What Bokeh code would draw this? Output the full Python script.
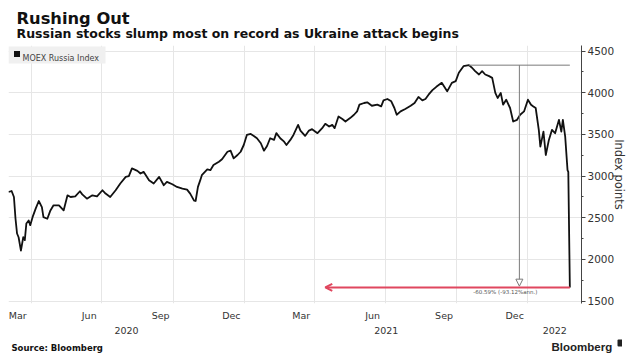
import pandas as pd
from bokeh.plotting import figure
from bokeh.layouts import column
from bokeh.models import (Range1d, FixedTicker, SingleIntervalTicker, DatetimeTickFormatter,
                          Label, Arrow, NormalHead, OpenHead, BoxAnnotation)
from bokeh.embed import file_html
from bokeh.resources import INLINE

# ---------------- data ----------------
title = "Rushing Out"
subtitle = "Russian stocks slump most on record as Ukraine attack begins"
series_name = "MOEX Russia Index"
source = "Source: Bloomberg"
y_label = "Index points"
drop_text = "-60.59% (-93.12%ann.)"

start_date = "2020-03-03"
day_offset = [0, 4, 7, 9, 11, 13, 16, 19, 21, 23,
              26, 28, 31, 35, 39, 43, 45, 50, 54, 58,
              65, 71, 76, 80, 86, 92, 95, 101, 108, 114,
              121, 125, 131, 138, 144, 151, 155, 159, 166, 170,
              174, 181, 187, 194, 200, 204, 211, 217, 224, 230,
              234, 239, 241, 244, 247, 249, 256, 260, 264, 271,
              275, 282, 286, 290, 295, 299, 303, 307, 312, 316,
              320, 325, 329, 333, 337, 342, 345, 350, 355, 358,
              363, 367, 373, 376, 382, 387, 391, 398, 404, 408,
              413, 417, 420, 425, 430, 434, 440, 445, 449, 452,
              458, 462, 468, 475, 480, 483, 488, 493, 497, 500,
              505, 511, 518, 523, 528, 533, 537, 541, 546, 551,
              558, 565, 571, 576, 580, 586, 593, 597, 601, 606,
              610, 614, 619, 623, 627, 630, 634, 637, 641, 646,
              650, 655, 659, 664, 669, 673, 676, 679, 683, 685,
              689, 692, 696, 700, 704, 709, 712, 714, 717, 720,
              721, 723]
moex = [2808, 2820, 2748, 2490, 2310, 2265, 2104, 2265, 2230, 2430,
        2466, 2410, 2506, 2608, 2700, 2627, 2506, 2487, 2587, 2648,
        2648, 2587, 2768, 2748, 2756, 2817, 2780, 2728, 2768, 2756,
        2829, 2789, 2748, 2829, 2910, 2990, 2998, 3091, 3062, 3030,
        3050, 2950, 2910, 2990, 2889, 2929, 2901, 2869, 2849, 2837,
        2789, 2705, 2700, 2869, 2950, 3010, 3079, 3070, 3131, 3171,
        3200, 3291, 3304, 3212, 3252, 3291, 3372, 3493, 3505, 3481,
        3453, 3393, 3304, 3360, 3453, 3433, 3514, 3453, 3412, 3372,
        3433, 3493, 3614, 3545, 3481, 3545, 3562, 3514, 3574, 3626,
        3594, 3614, 3574, 3714, 3683, 3654, 3695, 3735, 3775, 3856,
        3876, 3884, 3843, 3856, 3835, 3908, 3924, 3896, 3816, 3735,
        3775, 3804, 3843, 3876, 3949, 3908, 3924, 3976, 4030, 4070,
        4118, 4016, 4118, 4138, 4239, 4318, 4330, 4299, 4258, 4218,
        4258, 4218, 4198, 4178, 3997, 3936, 3997, 3856, 3916, 3816,
        3654, 3674, 3735, 3775, 3916, 3856, 3835, 3816, 3554, 3352,
        3533, 3252, 3433, 3554, 3513, 3674, 3533, 3674, 3473, 3070,
        3050, 1663]

month_ticks = ["2020-03-15", "2020-06-15", "2020-09-15", "2020-12-15",
               "2021-03-15", "2021-06-15", "2021-09-15", "2021-12-15"]
grid_dates = ["2020-04-01", "2020-07-01", "2020-10-01", "2021-01-01",
              "2021-04-01", "2021-07-01", "2021-10-01", "2022-01-01"]
years = [2020, 2021, 2022]
x_limits = ["2020-03-03", "2022-03-11"]
y_limits = [1470, 4566]
arrow_tip_date = "2021-04-15"

# ---------------- helpers ----------------
def ms(d):
    return pd.Timestamp(d).timestamp() * 1000.0

dates = pd.Timestamp(start_date) + pd.to_timedelta(day_offset, unit="D")
x0, x1 = ms(x_limits[0]), ms(x_limits[1])

year_centers = []
for yv in years:
    a = max(ms(f"{yv}-01-01"), x0)
    b = min(ms(f"{yv + 1}-01-01"), x1)
    year_centers.append((a + b) / 2)

FONT = "DejaVu Sans"
GRID = "#e6e6e6"
RED = "#e0475f"
GREY = "#7a7a7a"
FULL_W = 630
PAD = 8
FRAME_W = 573
FRAME_H = 258


def bare_fig(w, h, xr, yr):
    f = figure(frame_width=w, frame_height=h, x_range=xr, y_range=yr,
               x_axis_location=None, y_axis_location=None, output_backend="svg",
               toolbar_location=None, title=None, min_border=0)
    f.grid.visible = False
    f.outline_line_color = None
    f.background_fill_color = "white"
    f.border_fill_color = "white"
    return f


# ---------------- header ----------------
HEAD_H = 43
header = bare_fig(FULL_W, HEAD_H, Range1d(0, FULL_W), Range1d(0, HEAD_H))
header.add_layout(Label(x=PAD, y=25.5, x_units="screen", y_units="screen", text=title,
                        text_baseline="alphabetic", text_font=FONT, text_font_style="bold",
                        text_font_size="16.3px", text_color="#111111"))
header.add_layout(Label(x=PAD, y=10.3, x_units="screen", y_units="screen",
                        text=subtitle, text_baseline="alphabetic", text_font=FONT,
                        text_font_style="bold", text_font_size="12.5px", text_color="#111111"))

# ---------------- main chart ----------------
p = figure(frame_width=FRAME_W, frame_height=FRAME_H, x_axis_type="datetime",
           y_axis_location="right", output_backend="svg", toolbar_location=None, title=None,
           x_range=Range1d(x0, x1), y_range=Range1d(*y_limits),
           min_border=0, min_border_top=2, min_border_left=PAD)
p.outline_line_color = None
p.background_fill_color = "white"
p.border_fill_color = "white"

yt = SingleIntervalTicker(interval=500, num_minor_ticks=2)
ya = p.yaxis[0]
ya.ticker = yt
ya.major_tick_out = 4
ya.major_tick_in = 0
ya.minor_tick_out = 2
ya.minor_tick_in = 0
ya.axis_line_color = "#444444"
ya.major_tick_line_color = "#444444"
ya.minor_tick_line_color = "#444444"
ya.major_label_standoff = 2
ya.major_label_text_font = FONT
ya.major_label_text_font_size = "10.5px"
ya.major_label_text_color = "#333333"
ya.axis_label = y_label
ya.axis_label_standoff = -5
ya.axis_label_text_font = FONT
ya.axis_label_text_font_style = "normal"
ya.axis_label_text_font_size = "11.5px"
ya.axis_label_text_color = "#333333"
p.ygrid.ticker = yt
p.ygrid.grid_line_color = GRID

xa = p.xaxis[0]
xa.ticker = FixedTicker(ticks=[ms(d) for d in month_ticks])
xa.formatter = DatetimeTickFormatter(days="%b", months="%b", years="%b")
xa.axis_line_color = None
xa.major_tick_line_color = None
xa.minor_tick_line_color = None
xa.major_tick_out = 0
xa.minor_tick_out = 0
xa.major_label_standoff = 6
xa.major_label_text_font = FONT
xa.major_label_text_font_size = "9.5px"
xa.major_label_text_color = "#333333"
p.xgrid.ticker = FixedTicker(ticks=[ms(d) for d in grid_dates])
p.xgrid.grid_line_color = GRID

p.line(dates, moex, line_color="#111111", line_width=1.8, line_join="round")

peak_i = max(range(len(moex)), key=lambda i: moex[i])
peak_x = dates[peak_i].timestamp() * 1000.0
last_x = dates[-1].timestamp() * 1000.0
peak_v = moex[peak_i]
low_v = moex[-1]
mid_x = (peak_x + last_x) / 2

p.segment(x0=[peak_x], y0=[peak_v], x1=[last_x], y1=[peak_v], line_color=GREY, line_width=1)
p.add_layout(Arrow(x_start=mid_x, y_start=peak_v, x_end=mid_x, y_end=low_v + 15,
                   line_color=GREY, line_width=1,
                   end=NormalHead(size=7, fill_color="white", line_color=GREY, line_width=1)))
p.add_layout(Arrow(x_start=last_x, y_start=low_v, x_end=ms(arrow_tip_date), y_end=low_v,
                   line_color=RED, line_width=2,
                   end=OpenHead(size=7, line_color=RED, line_width=2)))
p.add_layout(Label(x=mid_x, y=low_v, text=drop_text, text_align="center", text_baseline="top",
                   x_offset=-14, y_offset=-2, text_font=FONT, text_font_size="5.5px",
                   text_color="#555555"))

# legend
p.add_layout(BoxAnnotation(left=0, right=97, bottom=240, top=257, left_units="screen",
                           right_units="screen", bottom_units="screen", top_units="screen",
                           fill_color="#f0f0f0", fill_alpha=1, line_color=None, level="annotation"))
p.add_layout(BoxAnnotation(left=5.5, right=11.5, bottom=246.5, top=252.5, left_units="screen",
                           right_units="screen", bottom_units="screen", top_units="screen",
                           fill_color="#111111", fill_alpha=1, line_color=None, level="annotation"))
p.add_layout(Label(x=14, y=245, x_units="screen", y_units="screen", text=series_name,
                   text_baseline="alphabetic", text_font=FONT, text_font_size="8px",
                   text_color="#444444"))

# ---------------- footer (years + source) ----------------
# the footer's frame lines up with the main frame's left edge
FOOT_H = 30
FOOT_W = FULL_W - PAD
span = x1 - x0
foot_end = x0 + span * FOOT_W / FRAME_W
footer = bare_fig(FOOT_W, FOOT_H, Range1d(x0, foot_end), Range1d(0, FOOT_H))
for yc, yv in zip(year_centers, years):
    footer.add_layout(Label(x=yc, y=23, y_units="screen", text=str(yv), text_align="center",
                            text_baseline="middle", text_font=FONT, text_font_size="9.5px",
                            text_color="#333333"))
footer.add_layout(Label(x=3, y=5.5, x_units="screen", y_units="screen", text=source,
                        text_baseline="alphabetic", text_font=FONT, text_font_style="bold",
                        text_font_size="8.5px", text_color="#111111"))
footer.add_layout(Label(x=543, y=7, x_units="screen", y_units="screen", text="Bloomberg",
                        text_baseline="alphabetic", text_font="Liberation Sans",
                        text_font_style="bold", text_font_size="11.5px", text_color="#222222"))
footer.add_layout(BoxAnnotation(left=609, right=615, bottom=7, top=14, left_units="screen",
                                right_units="screen", bottom_units="screen", top_units="screen",
                                fill_color="#222222", fill_alpha=1, line_color=None,
                                border_radius=1))

layout = column(header, p, footer, spacing=0)
open("out.html", "w").write(file_html(layout, INLINE))
